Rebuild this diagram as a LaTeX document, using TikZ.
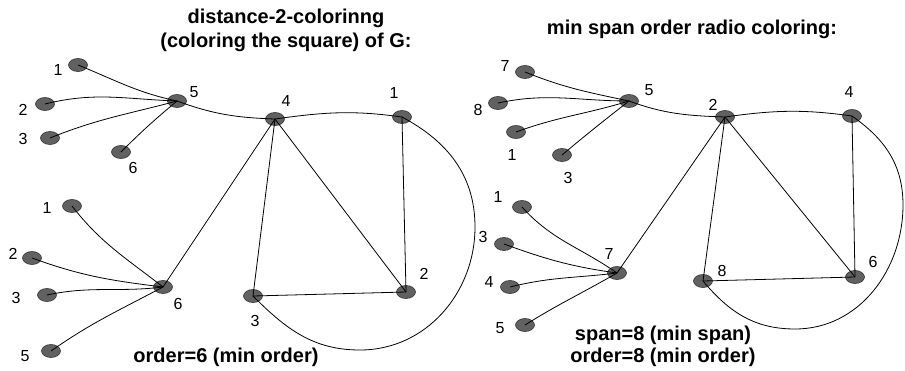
\documentclass[tikz,border=0pt]{standalone}
\usepackage{fontspec}
\setmainfont{Liberation Sans}
\usepackage{tikz}
\usetikzlibrary{shapes.geometric}
\tikzset{
  vtx/.style={
    ellipse,
    draw=black!80,
    fill=black!62,
    line width=0.6pt,
    minimum width=19pt,
    minimum height=13pt,
    inner sep=0pt},
  num/.style={font=\fontsize{16}{18}\selectfont, inner sep=0pt},
  caption/.style={font=\fontsize{20}{24}\selectfont\bfseries, align=center, inner sep=0pt},
  link/.style={draw, line width=0.8pt},
}
\begin{document}
\begin{tikzpicture}[x=1pt, y=1pt]
  \useasboundingbox (0,0) rectangle (905,-370);

  % square coloring, left
  \node[caption] (TitleSquare) at (286,-30) {distance-2-colorinng\\(coloring the square) of G:};
  \node[caption] (OrderSquare) at (226,-357) {order=6 (min order)};

  \node[vtx] (a1) at (78,-65)  {};  \node[num] (a1n) at (58,-70)  {1};
  \node[vtx] (a2) at (45,-104) {};  \node[num] (a2n) at (23,-110) {2};
  \node[vtx] (a3) at (50,-138) {};  \node[num] (a3n) at (23,-139) {3};
  \node[vtx] (a6) at (121,-152) {}; \node[num] (a6n) at (133,-168) {6};
  \node[vtx] (h5) at (177,-101) {}; \node[num] (h5n) at (194,-92) {5};
  \node[vtx] (n4) at (275,-119) {}; \node[num] (n4n) at (286,-101) {4};
  \node[vtx] (n1) at (402,-117) {}; \node[num] (n1n) at (394,-93) {1};
  \node[vtx] (n2) at (406,-292) {}; \node[num] (n2n) at (424,-274) {2};
  \node[vtx] (n3) at (253,-296) {}; \node[num] (n3n) at (255,-321) {3};
  \node[vtx] (h6) at (163,-287) {}; \node[num] (h6n) at (178,-304) {6};
  \node[vtx] (b1) at (72,-206) {};  \node[num] (b1n) at (47,-208) {1};
  \node[vtx] (b2) at (32,-258) {};  \node[num] (b2n) at (13,-254) {2};
  \node[vtx] (b3) at (47,-295) {};  \node[num] (b3n) at (16,-298) {3};
  \node[vtx] (b5) at (51,-351) {};  \node[num] (b5n) at (25,-356) {5};

  \draw[link] (a1.center) to[out=-22,in=168] (h5.center);
  \draw[link] (a2.center) to[out=14,in=178] (h5.center);
  \draw[link] (a3.center) to[out=22,in=195] (h5.center);
  \draw[link] (a6.center) to[out=45,in=220] (h5.center);
  \draw[link] (h5.center) to[out=-20,in=178] (n4.center);
  \draw[link] (n4.center) to[out=8,in=172] (n1.center);
  \draw[link] (n1.center) to[out=-28,in=90] (475,-227) to[out=-90,in=0] (360,-350) to[out=180,in=-45] (n3.center);
  \draw[link] (n4.center) -- (h6.center);
  \draw[link] (n4.center) -- (n3.center);
  \draw[link] (n4.center) -- (n2.center);
  \draw[link] (n1.center) -- (n2.center);
  \draw[link] (n3.center) -- (n2.center);
  \draw[link] (b1.center) to[out=-52,in=142] (h6.center);
  \draw[link] (b2.center) to[out=-20,in=173] (h6.center);
  \draw[link] (b3.center) to[out=12,in=187] (h6.center);
  \draw[link] (b5.center) to[out=35,in=208] (h6.center);

  % radio coloring, right
  \node[caption] (TitleRadio) at (692,-29) {min span order radio coloring:};
  \node[caption, font=\fontsize{20}{22}\selectfont\bfseries] (SpanRadio) at (663,-346) {span=8 (min span)\\order=8 (min order)};

  \node[vtx] (r7) at (525,-72)  {}; \node[num] (r7n) at (505,-66)  {7};
  \node[vtx] (r8) at (498,-103) {}; \node[num] (r8n) at (478,-110) {8};
  \node[vtx] (r1) at (516,-132) {}; \node[num] (r1n) at (512,-155) {1};
  \node[vtx] (r3) at (562,-155) {}; \node[num] (r3n) at (568,-178) {3};
  \node[vtx] (g5) at (629,-101) {}; \node[num] (g5n) at (649,-90)  {5};
  \node[vtx] (m2) at (725,-117) {}; \node[num] (m2n) at (713,-105) {2};
  \node[vtx] (m4) at (852,-116) {}; \node[num] (m4n) at (849,-92)  {4};
  \node[vtx] (m6) at (855,-277) {}; \node[num] (m6n) at (873,-262) {6};
  \node[vtx] (m8) at (703,-281) {}; \node[num] (m8n) at (722,-271) {8};
  \node[vtx] (g7) at (617,-273) {}; \node[num] (g7n) at (609,-254) {7};
  \node[vtx] (s1) at (522,-207) {}; \node[num] (s1n) at (498,-197) {1};
  \node[vtx] (s3) at (504,-244) {}; \node[num] (s3n) at (483,-237) {3};
  \node[vtx] (s4) at (510,-287) {}; \node[num] (s4n) at (489,-282) {4};
  \node[vtx] (s5) at (525,-325) {}; \node[num] (s5n) at (500,-328) {5};

  \draw[link] (r7.center) to[out=-22,in=168] (g5.center);
  \draw[link] (r8.center) to[out=12,in=180] (g5.center);
  \draw[link] (r1.center) to[out=20,in=197] (g5.center);
  \draw[link] (r3.center) to[out=40,in=218] (g5.center);
  \draw[link] (g5.center) to[out=-20,in=178] (m2.center);
  \draw[link] (m2.center) to[out=8,in=172] (m4.center);
  \draw[link] (m4.center) to[out=-35,in=90] (903,-205) to[out=-90,in=0] (795,-329) to[out=180,in=-50] (m8.center);
  \draw[link] (m2.center) -- (g7.center);
  \draw[link] (m2.center) -- (m8.center);
  \draw[link] (m2.center) -- (m6.center);
  \draw[link] (m4.center) -- (m6.center);
  \draw[link] (m8.center) -- (m6.center);
  \draw[link] (s1.center) to[out=-48,in=145] (g7.center);
  \draw[link] (s3.center) to[out=-20,in=172] (g7.center);
  \draw[link] (s4.center) to[out=14,in=187] (g7.center);
  \draw[link] (s5.center) to[out=32,in=210] (g7.center);
\end{tikzpicture}
\end{document}
